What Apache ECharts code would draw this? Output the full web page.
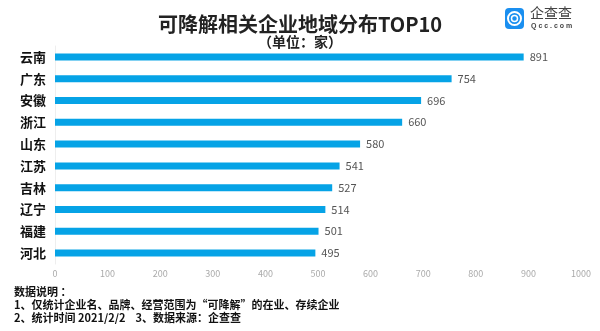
<!DOCTYPE html>
<html><head><meta charset="utf-8">
<script src="https://cdn.jsdelivr.net/npm/echarts@6/dist/echarts.min.js"></script>
<style>html,body{margin:0;padding:0;background:#fff}#c{width:600px;height:331px}</style>
</head><body><div id="c"></div>
<script>
const categories = ['云南','广东','安徽','浙江','山东','江苏','吉林','辽宁','福建','河北'];
const values = [891,754,696,660,580,541,527,514,501,495];
const xTicks = [0,100,200,300,400,500,600,700,800,900,1000];
const titleText = '可降解相关企业地域分布TOP10';
const subText = '（单位：家）';
const notes = ['数据说明 ：','1、仅统计企业名、品牌、经营范围为“可降解”的在业、存续企业','2、统计时间 2021/2/2    3、数据来源：企查查'];

const font = '"Noto Sans CJK SC", "Microsoft YaHei", sans-serif';
const chart = echarts.init(document.getElementById('c'));
chart.setOption({
  backgroundColor:'#fff',
  animation:false,
  textStyle:{fontFamily:font},
  title:[
    {text:titleText,left:'center',top:9,textStyle:{fontSize:20,fontWeight:'bold',color:'#222',fontFamily:font}},
    {text:subText,left:'center',top:30,textStyle:{fontSize:14,fontWeight:'bold',color:'#222',fontFamily:font}}
  ],
  grid:{left:55,right:19,top:46,bottom:67,containLabel:false},
  xAxis:{type:'value',min:xTicks[0],max:xTicks[xTicks.length-1],interval:100,
    axisLine:{show:false},axisTick:{show:false},splitLine:{show:false},
    axisLabel:{color:'#aaa',fontSize:9,margin:5,fontFamily:font,formatter:v=>String(v)}},
  yAxis:{type:'category',data:categories,inverse:true,
    axisLine:{show:true,lineStyle:{color:'#eee'}},axisTick:{show:false},
    axisLabel:{color:'#111',fontSize:13,fontWeight:'bold',margin:9,fontFamily:font}},
  series:[{type:'bar',data:values,barWidth:7,
    itemStyle:{color:'#06a3e6'},
    label:{show:true,position:'right',distance:6,color:'#555',fontSize:11,fontFamily:font}}],
  graphic:[
    {type:'text',left:14,top:286,style:{text:notes[0],font:'bold 11px '+font,fill:'#111'}},
    {type:'text',left:14,top:299,style:{text:notes[1],font:'bold 11px '+font,fill:'#111'}},
    {type:'text',left:14,top:312,style:{text:notes[2],font:'bold 11px '+font,fill:'#111'}},
    {type:'rect',left:505,top:8,shape:{width:19,height:21,r:4},style:{fill:'#1a8ff0'}},
    {type:'circle',shape:{cx:514.5,cy:18.5,r:6.5},style:{fill:'none',stroke:'#fff',lineWidth:2}},
    {type:'circle',shape:{cx:514.5,cy:18.5,r:3},style:{fill:'none',stroke:'#fff',lineWidth:1.5}},
    {type:'text',left:530,top:6,style:{text:'企查查',font:'14px '+font,fill:'#444'}},
    {type:'text',left:531,top:23,style:{text:'Q c c . c o m',font:'bold 7px sans-serif',fill:'#444'}}
  ]
});
</script></body></html>
